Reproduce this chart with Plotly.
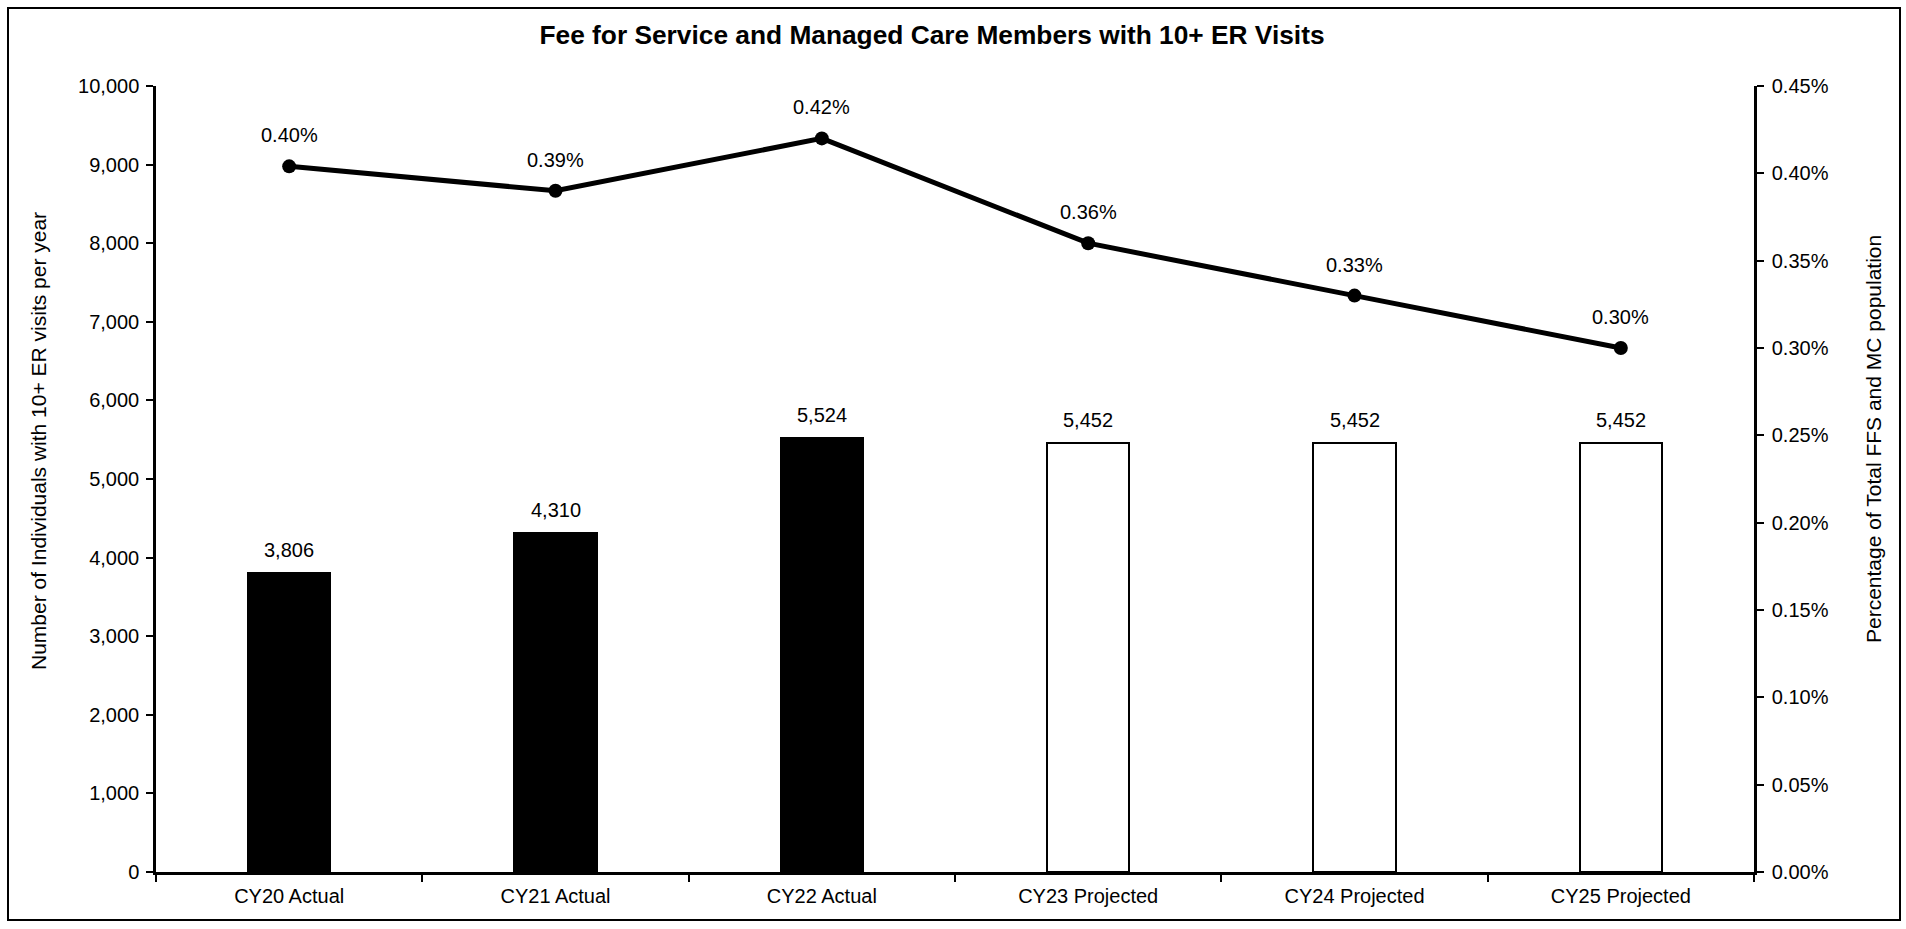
import plotly.graph_objects as go

categories = ["CY20 Actual", "CY21 Actual", "CY22 Actual", "CY23 Projected", "CY24 Projected", "CY25 Projected"]
members = [3806, 4310, 5524, 5452, 5452, 5452]
pct_population = [0.00404, 0.0039, 0.0042, 0.0036, 0.0033, 0.0030]
bar_fill = ["black", "black", "black", "white", "white", "white"]

W, H = 1906, 929
L, R, T, B = 156, 152, 86, 57

FONT = "Liberation Sans, Arial, sans-serif"
LBL = 20

fig = go.Figure()
fig.add_trace(go.Bar(
    x=categories, y=members,
    marker=dict(color=bar_fill, line=dict(color="black", width=2)),
    width=0.31, showlegend=False, hoverinfo="x+y",
))
fig.add_trace(go.Scatter(
    x=categories, y=pct_population, yaxis="y2",
    mode="lines+markers",
    line=dict(color="black", width=5),
    marker=dict(color="black", size=14),
    cliponaxis=False, showlegend=False,
))

annotations = []
for c, v in zip(categories, members):
    annotations.append(dict(x=c, y=v, xref="x", yref="y", text=f"{v:,}", showarrow=False,
                            yanchor="middle", yshift=23, font=dict(size=LBL, color="black", family=FONT)))
for c, v in zip(categories, pct_population):
    annotations.append(dict(x=c, y=v, xref="x", yref="y2", text=f"{v:.2%}", showarrow=False,
                            yanchor="middle", yshift=31, font=dict(size=LBL, color="black", family=FONT)))

pw, ph = W - L - R, H - T - B
# axis titles, positioned in paper coords
annotations.append(dict(text="Number of Individuals with 10+ ER visits per year", textangle=-90,
                        xref="paper", yref="paper", x=(39 - L) / pw, y=(H - B - 441) / ph,
                        xanchor="center", yanchor="middle", showarrow=False,
                        font=dict(size=21, color="black", family=FONT)))
annotations.append(dict(text="Percentage of Total FFS and MC population", textangle=-90,
                        xref="paper", yref="paper", x=(1873 - L) / pw, y=(H - B - 439) / ph,
                        xanchor="center", yanchor="middle", showarrow=False,
                        font=dict(size=21, color="black", family=FONT)))

axis_common = dict(showline=True, linecolor="black", linewidth=2.5, ticks="outside",
                   tickcolor="black", ticklen=7, tickwidth=2, showgrid=False, zeroline=False,
                   tickfont=dict(size=LBL, color="black", family=FONT))

fig.update_layout(
    width=W, height=H,
    margin=dict(l=L, r=R, t=T, b=B),
    paper_bgcolor="white", plot_bgcolor="white",
    font=dict(family=FONT, color="black"),
    title=dict(text="<b>Fee for Service and Managed Care Members with 10+ ER Visits</b>",
               x=932 / W, xanchor="center", y=1 - 35 / H, yanchor="middle", yref="container",
               font=dict(size=26.3, color="black", family=FONT)),
    xaxis=dict(type="category", tickson="boundaries", ticklabelstandoff=4, **axis_common),
    yaxis=dict(range=[0, 10000], dtick=1000, tickformat=",", ticklabelstandoff=3, **axis_common),
    yaxis2=dict(range=[0, 0.0045], dtick=0.0005, tickformat=".2%", overlaying="y", side="right",
                ticklabelstandoff=4, **axis_common),
    bargap=0,
    annotations=annotations,
)

fig.add_shape(type="rect", xref="paper", yref="paper",
              x0=(8 - L) / pw, x1=(1900 - L) / pw,
              y0=(H - B - 920) / ph, y1=1 + (T - 8) / ph,
              line=dict(color="black", width=2), fillcolor="rgba(0,0,0,0)", layer="below")

fig.write_html("out.html", config={"displayModeBar": False},
               post_script="document.body.style.margin='0';document.body.style.overflow='hidden';")
